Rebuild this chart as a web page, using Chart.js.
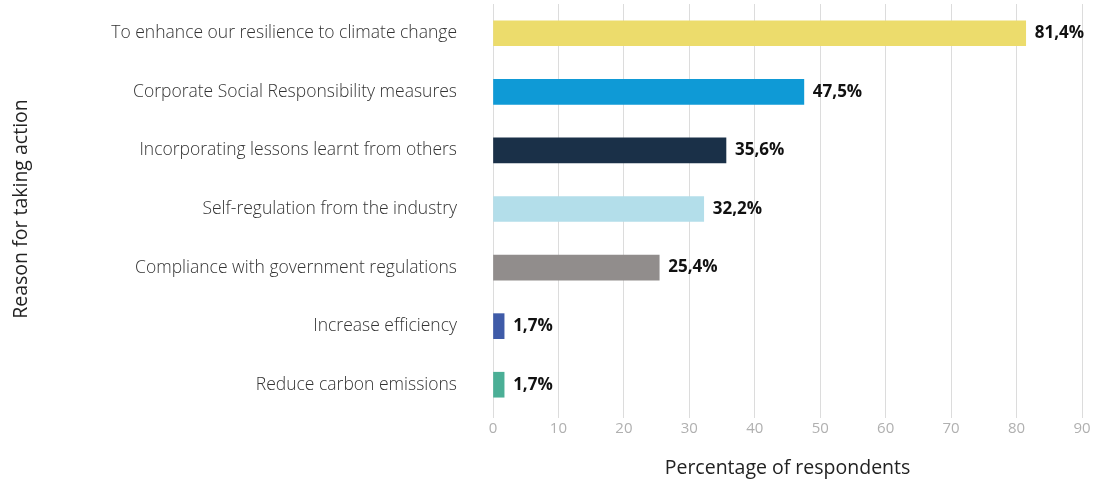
<!DOCTYPE html>
<html>
<head>
<meta charset="utf-8">
<script src="https://cdn.jsdelivr.net/npm/chart.js@4"></script>
<style>
  html, body { margin: 0; padding: 0; background: #fff; }
  #wrap { width: 1096px; height: 486px; position: relative; }
</style>
</head>
<body>
<div id="wrap"><canvas id="c" width="1096" height="486"></canvas></div>
<script>
const categories = [
  "To enhance our resilience to climate change",
  "Corporate Social Responsibility measures",
  "Incorporating lessons learnt from others",
  "Self-regulation from the industry",
  "Compliance with government regulations",
  "Increase efficiency",
  "Reduce carbon emissions"
];
const percentages = [81.4, 47.5, 35.6, 32.2, 25.4, 1.7, 1.7];
const barColors = ["#ECDC6C", "#0F9AD6", "#1A3048", "#B3DEEA", "#918D8C", "#3F5BA8", "#4BAF96"];
const xTickValues = [0, 10, 20, 30, 40, 50, 60, 70, 80, 90];
const xTitle = "Percentage of respondents";
const yTitle = "Reason for taking action";

const FONT = "'Open Sans', 'Noto Sans', sans-serif";

const valueLabels = {
  id: 'valueLabels',
  afterDatasetsDraw(chart) {
    const ctx = chart.ctx;
    const meta = chart.getDatasetMeta(0);
    ctx.save();
    ctx.font = "bold 17px " + FONT;
    ctx.fillStyle = "#111";
    ctx.textAlign = "left";
    ctx.textBaseline = "middle";
    meta.data.forEach((bar, i) => {
      const v = chart.data.datasets[0].data[i];
      const txt = v.toFixed(1).replace('.', ',') + '%';
      ctx.fillText(txt, bar.x + 9, bar.y);
    });
    ctx.restore();
  }
};

new Chart(document.getElementById('c'), {
  type: 'bar',
  data: {
    labels: categories,
    datasets: [{
      data: percentages,
      backgroundColor: barColors,
      borderWidth: 0,
      barThickness: 25
    }]
  },
  options: {
    indexAxis: 'y',
    responsive: false,
    animation: false,
    devicePixelRatio: 1,
    layout: { autoPadding: false, padding: { top: 4, right: 14, left: 0, bottom: 0 } },
    plugins: {
      legend: { display: false },
      tooltip: { enabled: false }
    },
    scales: {
      x: {
        min: 0,
        max: 90,
        afterBuildTicks(scale) {
          scale.ticks = xTickValues.map(v => ({ value: v }));
        },
        afterFit(scale) { scale.height = 72; scale.paddingLeft = 0; scale.paddingRight = 0; },
        grid: {
          color: "#dcdcdc",
          lineWidth: 1,
          drawTicks: true,
          tickLength: 4,
          tickColor: "#dcdcdc"
        },
        border: { display: false },
        ticks: {
          color: "#b0b0b0",
          font: { family: FONT, size: 15 },
          padding: 2
        },
        title: {
          display: true,
          text: xTitle,
          color: "#222",
          font: { family: FONT, size: 19.5 },
          padding: { top: 0, bottom: 6 }
        }
      },
      y: {
        afterFit(scale) { scale.width = 493; scale.paddingTop = 0; scale.paddingBottom = 0; },
        grid: { display: false, drawTicks: false },
        border: { display: false },
        ticks: {
          color: "#333",
          font: { family: FONT, size: 17.5, weight: 300 },
          padding: 36
        },
        title: {
          display: true,
          text: yTitle,
          color: "#222",
          font: { family: FONT, size: 19.5 },
          padding: { top: 10, bottom: 0 }
        }
      }
    }
  },
  plugins: [valueLabels]
});
</script>
</body>
</html>
